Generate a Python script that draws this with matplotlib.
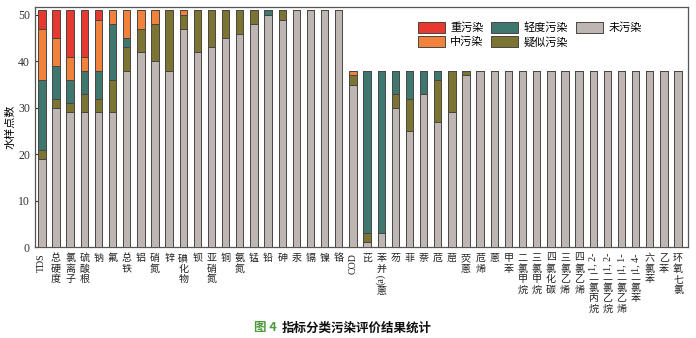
import re
import matplotlib
matplotlib.use('Agg')
import matplotlib.pyplot as plt
import numpy as np

plt.rcParams['font.family'] = ['Liberation Serif', 'Noto Sans CJK SC', 'DejaVu Sans']

CJK_FONT = ['Noto Sans CJK SC', 'DejaVu Sans']
LATIN_FONT = ['Liberation Serif', 'DejaVu Sans']

categories = ['TDS', '总硬度', '氯离子', '硫酸根', '钠', '氟', '总铁', '铝', '硝氮', '锌',
              '碘化物', '钡', '亚硝氮', '铜', '氨氮', '锰', '铅', '砷', '汞', '镉', '镍', '铬',
              'COD', '芘', '苯并(a)蒽', '芴', '菲', '萘', '苊', '䓛', '荧蒽', '苊烯', '蒽',
              '甲苯', '二氯甲烷', '三氯甲烷', '四氯化碳', '三氯乙烯', '四氯乙烯',
              '1, 2-二氯丙烷', '1, 2-二氯乙烷', '1, 1-二氯乙烯', '1, 4-二氯苯',
              '六氯苯', '乙苯', '环氧七氯']

# sample counts per class, bottom to top of each stack
clean = [19, 30, 29, 29, 29, 29, 38, 42, 40, 38, 47, 42, 43, 45, 46, 48, 50, 49, 51, 51, 51, 51,
         35, 1, 3, 30, 25, 33, 27, 29, 37, 38, 38,
         38, 38, 38, 38, 38, 38, 38, 38, 38, 38, 38, 38, 38]
suspect = [2, 2, 2, 4, 3, 7, 5, 5, 8, 13, 3, 9, 8, 6, 5, 3, 0, 2, 0, 0, 0, 0,
           2, 2, 0, 3, 7, 0, 9, 9, 1, 0, 0,
           0, 0, 0, 0, 0, 0, 0, 0, 0, 0, 0, 0, 0]
light = [15, 7, 5, 5, 6, 12, 2, 0, 0, 0, 0, 0, 0, 0, 0, 0, 1, 0, 0, 0, 0, 0,
         0, 35, 35, 5, 6, 5, 2, 0, 0, 0, 0,
         0, 0, 0, 0, 0, 0, 0, 0, 0, 0, 0, 0, 0]
medium = [11, 6, 5, 3, 11, 3, 6, 4, 3, 0, 1, 0, 0, 0, 0, 0, 0, 0, 0, 0, 0, 0,
          1, 0, 0, 0, 0, 0, 0, 0, 0, 0, 0,
          0, 0, 0, 0, 0, 0, 0, 0, 0, 0, 0, 0, 0]
heavy = [4, 6, 10, 10, 2, 0, 0, 0, 0, 0, 0, 0, 0, 0, 0, 0, 0, 0, 0, 0, 0, 0,
         0, 0, 0, 0, 0, 0, 0, 0, 0, 0, 0,
         0, 0, 0, 0, 0, 0, 0, 0, 0, 0, 0, 0, 0]

series = [
    ('未污染', clean, '#bdb6b3'),
    ('疑似污染', suspect, '#7b7433'),
    ('轻度污染', light, '#3e776e'),
    ('中污染', medium, '#f0823c'),
    ('重污染', heavy, '#e63a30'),
]

fig = plt.figure(figsize=(6.96, 3.38), dpi=100)
ax = fig.add_axes([0.050, 0.269, 0.9385, 0.710])

x = np.arange(len(categories))
bottom = np.zeros(len(categories))
handles = {}
for name, vals, color in series:
    vals = np.array(vals, dtype=float)
    bars = ax.bar(x, vals, bottom=bottom, width=0.52, color=color,
                  edgecolor='#4a4443', linewidth=0.7, zorder=3)
    handles[name] = bars
    bottom += vals

ax.set_xlim(-0.5, len(categories) - 0.3)
ax.set_ylim(0, 51.7)
ax.set_yticks([0, 10, 20, 30, 40, 50])
ax.tick_params(axis='y', direction='in', length=2.5, labelsize=8.5, colors='#333333')
ax.tick_params(axis='x', length=0, labelbottom=False)
for s in ax.spines.values():
    s.set_color('#555555')
    s.set_linewidth(0.9)
ax.set_ylabel('水样点数', family=CJK_FONT, fontsize=8, labelpad=2)

order = ['重污染', '中污染', '轻度污染', '疑似污染', '未污染']
ax.legend([handles[n] for n in order], order, ncol=3, loc='upper left',
          bbox_to_anchor=(0.58, 0.955), frameon=False,
          prop={'family': CJK_FONT, 'size': 8},
          handlelength=2.4, handleheight=1.1, handletextpad=0.5,
          columnspacing=0.7, labelspacing=0.25, borderaxespad=0)

# vertical category labels: CJK characters stacked upright, latin runs rotated
fig.canvas.draw()
renderer = fig.canvas.get_renderer()
fs = 7.2
for i, lab in enumerate(categories):
    off = 4.3
    for tok in re.findall(r'[\x00-\x7f]+|[^\x00-\x7f]', lab):
        is_latin = tok.isascii()
        t = ax.annotate(tok, xy=(i, 0), xycoords=('data', 'axes fraction'),
                        xytext=(0, -off), textcoords='offset points',
                        ha='center', va='top', rotation=90 if is_latin else 0,
                        fontsize=fs, family=LATIN_FONT if is_latin else CJK_FONT,
                        color='#222222', annotation_clip=False)
        if is_latin:
            off += t.get_window_extent(renderer).height * 72 / fig.dpi + 0.5
        else:
            off += fs * 1.05

fig.text(0.365, 0.030, '图 4', color='#4f9a3a', fontsize=9, weight='bold',
         family=CJK_FONT, ha='left', va='center')
fig.text(0.405, 0.030, '指标分类污染评价结果统计', color='#111111', fontsize=9,
         weight='bold', family=CJK_FONT, ha='left', va='center')

fig.savefig('out.png', dpi=100)
